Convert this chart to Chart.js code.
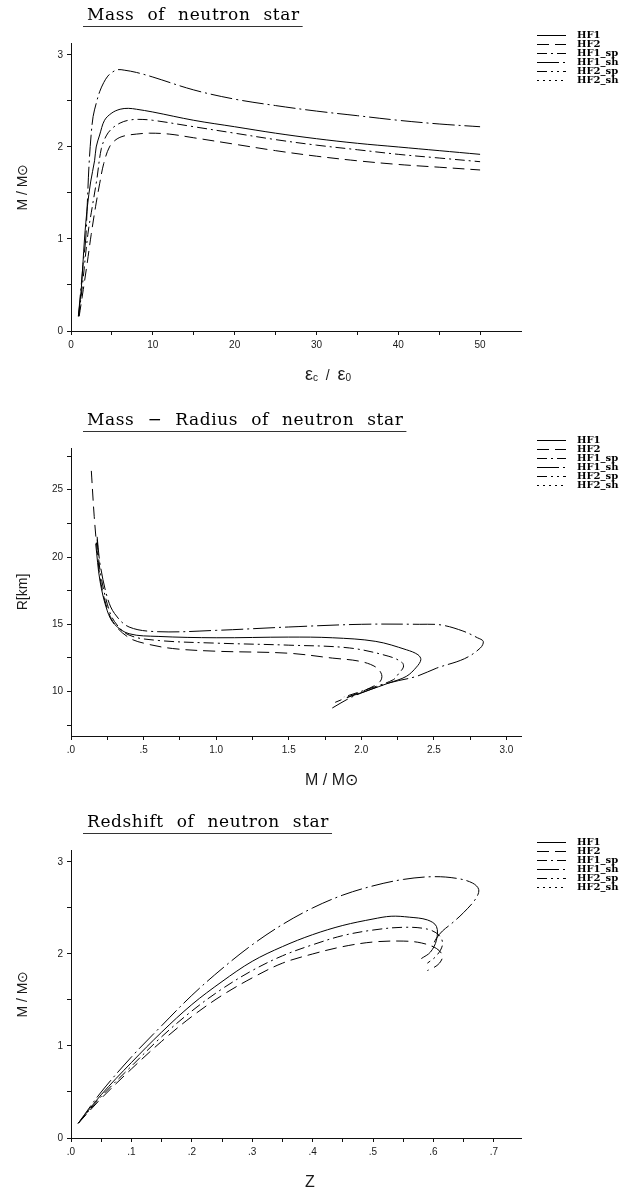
<!DOCTYPE html>
<html>
<head>
<meta charset="utf-8">
<script src="https://cdn.jsdelivr.net/npm/chart.js@4.4.1/dist/chart.umd.min.js"></script>
<style>
  html, body { margin: 0; padding: 0; background: #fff; }
  #page { position: relative; width: 623px; height: 1191px; overflow: hidden; }
  canvas { position: absolute; left: 0; }
</style>
</head>
<body>
<div id="page">
  <canvas id="massChart" width="623" height="405" style="top:0px"></canvas>
  <canvas id="radiusChart" width="623" height="402" style="top:405px"></canvas>
  <canvas id="redshiftChart" width="623" height="384" style="top:807px"></canvas>
</div>
<script>
// ---------- series names ----------
const seriesNames = ['HF1', 'HF2', 'HF1_sp', 'HF1_sh', 'HF2_sp', 'HF2_sh'];

// ---------- panel 1: mass vs central energy density (eps_c / eps_0) ----------
const epsHF1   = [0.9, 1.25, 1.65, 2.0, 2.4, 2.88, 3.08, 3.5, 4.1, 5.0, 6.0, 7.0, 8.0, 10, 15, 20, 25, 30, 35, 40, 45, 50];
const massHF1  = [0.16, 0.45, 1.0, 1.35, 1.62, 1.85, 2.0, 2.13, 2.29, 2.37, 2.41, 2.42, 2.41, 2.38, 2.29, 2.22, 2.15, 2.09, 2.04, 2.0, 1.96, 1.92];
const epsHF2   = [1.0, 1.5, 2.0, 2.47, 3.0, 3.5, 4.0, 4.7, 5.5, 6.5, 8, 9.6, 12, 15, 20, 25, 30, 35, 40, 45, 50];
const massHF2  = [0.16, 0.45, 0.75, 1.05, 1.35, 1.6, 1.82, 2.0, 2.08, 2.12, 2.14, 2.15, 2.14, 2.1, 2.03, 1.96, 1.9, 1.85, 1.81, 1.78, 1.75];
const epsHF1sp  = [0.95, 1.4, 2.06, 2.6, 3.16, 3.7, 4.3, 5.0, 6.0, 7.0, 8.2, 10, 15, 20, 25, 30, 35, 40, 45, 50];
const massHF1sp = [0.16, 0.5, 1.05, 1.35, 1.65, 1.98, 2.12, 2.2, 2.26, 2.29, 2.30, 2.29, 2.22, 2.15, 2.08, 2.02, 1.97, 1.92, 1.88, 1.84];
const epsHF1sh  = [0.9, 1.25, 1.5, 1.8, 2.0, 2.2, 2.45, 2.7, 3.1, 3.5, 4.0, 4.5, 5.0, 5.7, 6.5, 8, 10, 15, 20, 25, 30, 35, 40, 45, 50];
const massHF1sh = [0.16, 0.5, 0.75, 1.0, 1.4, 1.8, 2.12, 2.33, 2.48, 2.6, 2.7, 2.77, 2.81, 2.84, 2.835, 2.81, 2.76, 2.62, 2.52, 2.45, 2.39, 2.34, 2.29, 2.25, 2.22];

// ---------- panel 2: radius vs mass ----------
const mrMassHF1   = [0.17, 0.2, 0.25, 0.3, 0.4, 0.6, 1.0, 1.5, 1.8, 2.1, 2.31, 2.39, 2.41, 2.38, 2.31, 2.19, 2.05, 1.9];
const mrRadiusHF1 = [21.0, 18.2, 16.0, 15.0, 14.3, 14.1, 14.0, 14.05, 14.0, 13.73, 13.11, 12.74, 12.37, 11.82, 11.13, 10.64, 10.1, 9.55];
const mrMassHF2   = [0.14, 0.16, 0.18, 0.2, 0.24, 0.3, 0.4, 0.5, 0.7, 1.0, 1.5, 1.8, 1.99, 2.10, 2.14, 2.13, 2.06, 1.92, 1.82];
const mrRadiusHF2 = [26.4, 23.0, 20.5, 18.5, 16.5, 15.0, 14.0, 13.6, 13.2, 13.0, 12.85, 12.49, 12.25, 11.82, 11.26, 10.76, 10.27, 9.65, 9.2];
const mrMassHF1sp   = [0.18, 0.2, 0.25, 0.3, 0.4, 0.6, 1.0, 1.5, 1.92, 2.19, 2.28, 2.29, 2.26, 2.22, 2.05, 1.88];
const mrRadiusHF1sp = [21.3, 19.0, 16.5, 15.2, 14.2, 13.8, 13.6, 13.45, 13.24, 12.62, 12.17, 11.82, 11.38, 10.88, 10.2, 9.6];
const mrMassHF1sh   = [0.18, 0.2, 0.25, 0.3, 0.4, 0.6, 1.0, 1.5, 2.0, 2.4, 2.55, 2.7, 2.8, 2.84, 2.82, 2.71, 2.52, 2.38, 2.19, 2.03, 1.92, 1.80];
const mrRadiusHF1sh = [21.5, 19.5, 17.0, 15.8, 14.8, 14.45, 14.55, 14.8, 15.0, 15.0, 14.95, 14.5, 14.0, 13.73, 13.24, 12.44, 11.75, 11.13, 10.64, 10.02, 9.52, 8.78];

// ---------- panel 3: mass vs surface redshift ----------
const zHF1   = [0.012, 0.05, 0.1, 0.15, 0.2, 0.25, 0.3, 0.35, 0.4, 0.45, 0.5, 0.53, 0.56, 0.59, 0.605, 0.605, 0.595, 0.58];
const zmHF1  = [0.16, 0.47, 0.82, 1.15, 1.45, 1.7, 1.92, 2.08, 2.21, 2.31, 2.38, 2.41, 2.4, 2.37, 2.3, 2.15, 2.02, 1.95];
const zHF2   = [0.012, 0.05, 0.1, 0.15, 0.2, 0.25, 0.3, 0.35, 0.4, 0.45, 0.5, 0.55, 0.58, 0.605, 0.615, 0.61, 0.6, 0.59];
const zmHF2  = [0.16, 0.43, 0.75, 1.05, 1.32, 1.55, 1.74, 1.9, 2.0, 2.08, 2.13, 2.14, 2.12, 2.06, 1.98, 1.9, 1.85, 1.82];
const zHF1sp  = [0.012, 0.05, 0.1, 0.15, 0.2, 0.25, 0.3, 0.35, 0.4, 0.45, 0.5, 0.55, 0.59, 0.61, 0.615, 0.605, 0.59];
const zmHF1sp = [0.16, 0.45, 0.78, 1.1, 1.38, 1.62, 1.82, 1.98, 2.1, 2.2, 2.26, 2.29, 2.27, 2.2, 2.1, 1.98, 1.9];
const zHF1sh  = [0.012, 0.05, 0.1, 0.15, 0.2, 0.25, 0.3, 0.35, 0.4, 0.45, 0.5, 0.55, 0.6, 0.64, 0.665, 0.675, 0.67, 0.65, 0.63, 0.615, 0.605, 0.598];
const zmHF1sh = [0.16, 0.5, 0.88, 1.22, 1.55, 1.84, 2.1, 2.32, 2.5, 2.64, 2.74, 2.81, 2.84, 2.82, 2.77, 2.7, 2.6, 2.45, 2.33, 2.25, 2.17, 2.08];

// ---------- tick positions ----------
const epsTicks       = [0, 5, 10, 15, 20, 25, 30, 35, 40, 45, 50];
const massTicks      = [0, 0.5, 1, 1.5, 2, 2.5, 3];
const radiusTicks    = [7.5, 10, 12.5, 15, 17.5, 20, 22.5, 25, 27.5];
const solarMassTicks = [0, 0.25, 0.5, 0.75, 1, 1.25, 1.5, 1.75, 2, 2.25, 2.5, 2.75, 3];
const redshiftTicks  = [0, 0.05, 0.1, 0.15, 0.2, 0.25, 0.3, 0.35, 0.4, 0.45, 0.5, 0.55, 0.6, 0.65, 0.7];

// ---------- line patterns per series ----------
const dashes = {
  HF1: [],
  HF2: [12, 6],
  HF1_sp: [10, 4, 2, 4],
  HF1_sh: [22, 4, 2, 4],
  HF2_sp: [10, 4, 2, 4, 2, 4],
  HF2_sh: [2, 4]
};

// ---------- helpers ----------
const near = (v, step) => Math.abs(v / step - Math.round(v / step)) < 1e-6;
const dotFmt = v => { const s = v.toFixed(1); return s.startsWith('0') ? s.slice(1) : s; };
const pairs = (xs, ys) => xs.map((x, i) => ({ x: x, y: ys[i] }));

const SANS = '"Liberation Sans", Arial, sans-serif';
const INK = '#1a1a1a';

function buildSeries(list) {
  return seriesNames.map((name, i) => ({
    label: name,
    data: list[i] || [],
    showLine: true,
    fill: false,
    borderColor: '#000',
    borderWidth: 1,
    borderDash: dashes[name],
    pointRadius: 0,
    pointHoverRadius: 0,
    tension: 0.35
  }));
}

function axis(cfg) {
  return {
    type: 'linear',
    min: cfg.min,
    max: cfg.max,
    afterBuildTicks: s => { s.ticks = cfg.ticks.map(v => ({ value: v })); },
    afterFit: s => {
      if (cfg.width != null) s.width = cfg.width;
      if (cfg.height != null) s.height = cfg.height;
    },
    ticks: {
      autoSkip: false, maxRotation: 0, minRotation: 0, padding: 4,
      color: INK, font: { family: SANS, size: 10 },
      callback: v => cfg.label(v)
    },
    grid: { display: true, drawOnChartArea: false, drawTicks: true, tickLength: 4, tickColor: '#111', lineWidth: 1 },
    border: { display: true, color: '#111', width: 1 },
    title: cfg.title
      ? { display: true, text: cfg.title, color: INK, font: { family: SANS, size: 14 }, padding: { top: 15, bottom: 0 } }
      : { display: false }
  };
}

// heading with underline, x-axis caption (with subscripts) and line-style key
const decorPlugin = {
  id: 'decor',
  afterDraw(chart, args, o) {
    const ctx = chart.ctx;
    ctx.save();
    // heading
    ctx.fillStyle = '#000';
    ctx.textAlign = 'left';
    ctx.textBaseline = 'alphabetic';
    ctx.font = '17px "DejaVu Serif", serif';
    if ('letterSpacing' in ctx) ctx.letterSpacing = '0.6px';
    if ('wordSpacing' in ctx) ctx.wordSpacing = '7px';
    ctx.fillText(o.heading, 87, 19.5);
    const hw = ctx.measureText(o.heading).width;
    if ('letterSpacing' in ctx) ctx.letterSpacing = '0px';
    if ('wordSpacing' in ctx) ctx.wordSpacing = '0px';
    ctx.strokeStyle = '#333';
    ctx.lineWidth = 1;
    ctx.beginPath();
    ctx.moveTo(83, 26.5);
    ctx.lineTo(87 + hw + 3, 26.5);
    ctx.stroke();

    // x-axis caption
    let x = 305;
    const base = 380;
    ctx.fillStyle = INK;
    o.xCaption.forEach(p => {
      ctx.font = p.size + 'px ' + SANS;
      ctx.fillText(p.t, x, base + (p.dy || 0));
      x += ctx.measureText(p.t).width;
    });

    // key
    ctx.strokeStyle = '#000';
    chart.data.datasets.forEach((ds, i) => {
      const y = 35.5 + i * 9;
      ctx.setLineDash(ds.borderDash || []);
      ctx.beginPath();
      ctx.moveTo(537, y);
      ctx.lineTo(566, y);
      ctx.stroke();
      ctx.setLineDash([]);
      ctx.font = 'bold 10px "DejaVu Serif", serif';
      ctx.textBaseline = 'middle';
      ctx.fillStyle = '#000';
      ctx.fillText(ds.label, 577, y);
    });
    ctx.restore();
  }
};

function makeChart(id, height, datasets, xAxis, yAxis, decor) {
  return new Chart(document.getElementById(id), {
    type: 'scatter',
    data: { datasets: datasets },
    options: {
      responsive: false,
      animation: false,
      devicePixelRatio: 1,
      layout: { padding: { left: 0, right: 102, top: 43, bottom: 0 } },
      plugins: { legend: { display: false }, tooltip: { enabled: false }, decor: decor },
      scales: {
        x: axis(Object.assign({ height: height - 331 }, xAxis)),
        y: axis(Object.assign({ width: 71 }, yAxis))
      }
    },
    plugins: [decorPlugin]
  });
}

// panel 1
makeChart('massChart', 405,
  buildSeries([pairs(epsHF1, massHF1), pairs(epsHF2, massHF2), pairs(epsHF1sp, massHF1sp), pairs(epsHF1sh, massHF1sh)]),
  { min: 0, max: 55, ticks: epsTicks, label: v => near(v, 10) ? String(v) : '' },
  { min: 0, max: 3.13, ticks: massTicks, label: v => near(v, 1) ? String(v) : '', title: 'M / M\u2299' },
  { heading: 'Mass of neutron star',
    xCaption: [{ t: '\u03b5', size: 18 }, { t: 'c', size: 10, dy: 1 }, { t: '  /  ', size: 14 }, { t: '\u03b5', size: 18 }, { t: '0', size: 10, dy: 1 }] }
);

// panel 2
makeChart('radiusChart', 402,
  buildSeries([pairs(mrMassHF1, mrRadiusHF1), pairs(mrMassHF2, mrRadiusHF2), pairs(mrMassHF1sp, mrRadiusHF1sp), pairs(mrMassHF1sh, mrRadiusHF1sh)]),
  { min: 0, max: 3.1, ticks: solarMassTicks, label: v => near(v, 0.5) ? dotFmt(v) : '' },
  { min: 6.7, max: 28.1, ticks: radiusTicks, label: v => near(v, 5) ? String(v) : '', title: 'R[km]' },
  { heading: 'Mass \u2212 Radius of neutron star',
    xCaption: [{ t: 'M / M\u2299', size: 16 }] }
);

// panel 3
makeChart('redshiftChart', 384,
  buildSeries([pairs(zHF1, zmHF1), pairs(zHF2, zmHF2), pairs(zHF1sp, zmHF1sp), pairs(zHF1sh, zmHF1sh)]),
  { min: 0, max: 0.745, ticks: redshiftTicks, label: v => near(v, 0.1) ? dotFmt(v) : '' },
  { min: 0, max: 3.13, ticks: massTicks, label: v => near(v, 1) ? String(v) : '', title: 'M / M\u2299' },
  { heading: 'Redshift of neutron star',
    xCaption: [{ t: 'Z', size: 16 }] }
);
</script>
</body>
</html>
